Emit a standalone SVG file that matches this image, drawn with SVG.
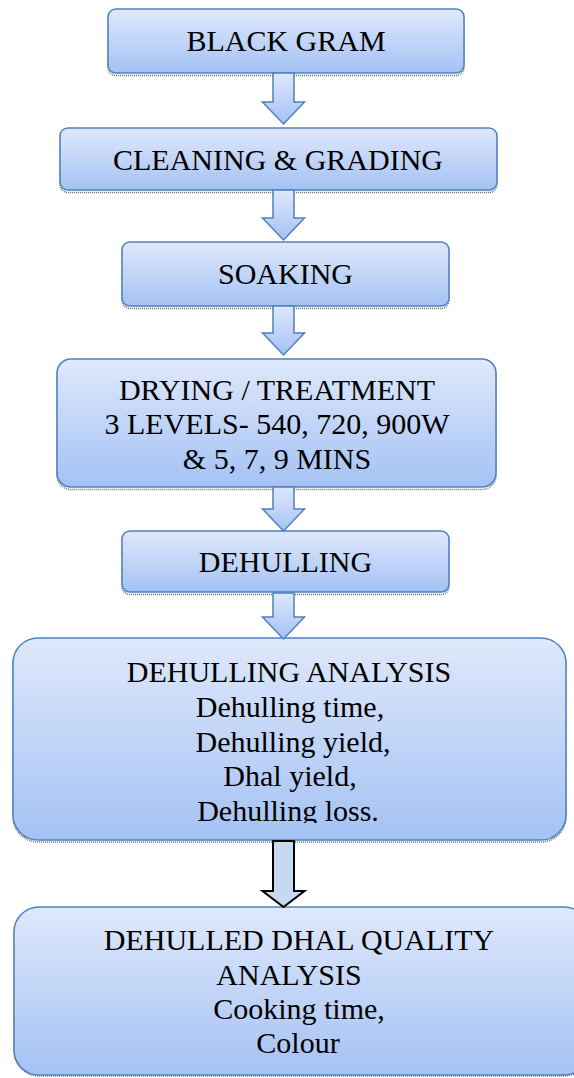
<svg xmlns="http://www.w3.org/2000/svg" width="574" height="1078" viewBox="0 0 574 1078">
<defs>
<linearGradient id="g" x1="0" y1="0" x2="0" y2="1">
<stop offset="0" stop-color="#dfe8fb"/>
<stop offset="1" stop-color="#a4c2f4"/>
</linearGradient>
<clipPath id="clip6"><rect x="0" y="640" width="574" height="183"/></clipPath>
</defs>
<style>
.box{fill:url(#g);stroke:#4f81bd;stroke-width:1.5}
.sh{fill:none;stroke:#707070;stroke-width:1.5;stroke-dasharray:1 1}
.arr{fill:url(#g);stroke:#4f81bd;stroke-width:1.5;stroke-linejoin:miter}
.arr2{fill:#c6d9f0;stroke:#000;stroke-width:2;stroke-linejoin:miter}
text{font-family:"Liberation Serif","Times New Roman",serif;font-size:30px;fill:#000;text-anchor:middle}
</style>
<rect width="574" height="1078" fill="#fff"/>
<g id="n1">
<rect class="sh" x="108" y="11.5" width="356" height="64" rx="8"/>
<rect class="box" x="108" y="9" width="356" height="64" rx="8"/>
<text x="286" y="51">BLACK GRAM</text>
</g>
<g id="n2">
<rect class="sh" x="60" y="130.5" width="437" height="62" rx="8"/>
<rect class="box" x="60" y="128" width="437" height="62" rx="8"/>
<text x="278" y="170">CLEANING &amp; GRADING</text>
</g>
<g id="n3">
<rect class="sh" x="122" y="244.5" width="327" height="64" rx="8"/>
<rect class="box" x="122" y="242" width="327" height="64" rx="8"/>
<text x="285.5" y="284">SOAKING</text>
</g>
<g id="n4">
<rect class="sh" x="57" y="361.5" width="439" height="128" rx="14"/>
<rect class="box" x="57" y="359" width="439" height="128" rx="14"/>
<text x="277" y="400">DRYING / TREATMENT</text>
<text x="277" y="434">3 LEVELS- 540, 720, 900W</text>
<text x="277" y="469">&amp; 5, 7, 9 MINS</text>
</g>
<g id="n5">
<rect class="sh" x="122" y="533.5" width="327" height="61" rx="8"/>
<rect class="box" x="122" y="531" width="327" height="61" rx="8"/>
<text x="285.5" y="572">DEHULLING</text>
</g>
<g id="n6">
<rect class="sh" x="13" y="640" width="553" height="202" rx="25"/>
<rect class="box" x="13" y="638" width="553" height="202" rx="25"/>
<g clip-path="url(#clip6)">
<text x="289" y="682">DEHULLING ANALYSIS</text>
<text x="290" y="717">Dehulling time,</text>
<text x="293" y="752">Dehulling yield,</text>
<text x="290" y="786">Dhal yield,</text>
<text x="288" y="821">Dehulling loss.</text>
</g>
</g>
<g id="n7">
<rect class="sh" x="14" y="909" width="575" height="167" rx="25"/>
<rect class="box" x="14" y="907" width="575" height="168" rx="25"/>
<text x="299" y="950">DEHULLED DHAL QUALITY</text>
<text x="289" y="985">ANALYSIS</text>
<text x="299" y="1019">Cooking time,</text>
<text x="298" y="1053">Colour</text>
</g>
<g id="connectors">
<path class="arr" d="M273,73 H294 V102 H304.5 L283.5,124 L262.5,102 H273 Z"/>
<path class="arr" d="M273,190 H294 V218 H304.5 L283.5,240 L262.5,218 H273 Z"/>
<path class="arr" d="M273,306 H294 V333 H304.5 L283.5,355 L262.5,333 H273 Z"/>
<path class="arr" d="M273,487 H294 V509 H304.5 L283.5,531 L262.5,509 H273 Z"/>
<path class="arr" d="M273,593 H294 V617 H304.5 L283.5,639 L262.5,617 H273 Z"/>
<path class="arr2" d="M273,841 H294 V891 H304.5 L283.5,907 L262.5,891 H273 Z"/>
</g>
</svg>
